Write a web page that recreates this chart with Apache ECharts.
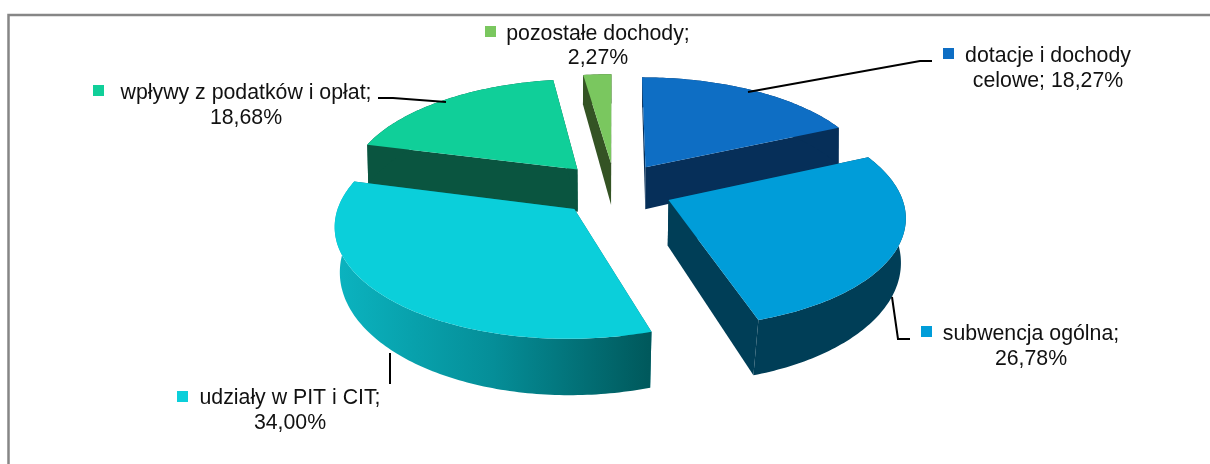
<!DOCTYPE html>
<html>
<head>
<meta charset="utf-8">
<title>Struktura dochodów</title>
<script src="https://cdn.jsdelivr.net/npm/echarts@6/dist/echarts.min.js"></script>
<style>
  html, body { margin: 0; padding: 0; background: #fff; }
  #chart { width: 1210px; height: 464px; }
</style>
</head>
<body>
<div id="chart"></div>
<script>
// slices clockwise from 12 o'clock
const categories = ["dotacje i dochody\ncelowe", "subwencja ogólna", "udziały w PIT i CIT", "wpływy z podatków i opłat", "pozostałe dochody"];
const values = [18.27, 26.78, 34.0, 18.68, 2.27];
const topColors = ["#0E6EC4", "#009DD9", "#0BCFDA", "#10CF99", "#7AC75F"];
const sideColors = ["#062F59", "#003E57", "#02707A", "#0A5540", "#345324"];
// back slices first so the near ones cover them
const drawOrder = [3, 4, 0, 1, 2];

// label placement: text centre, key square, leader line
const labelBoxes = [
  { x: 1048, y: 68.5, key: [943, 48], leader: [[748, 92], [920, 61], [932, 61]] },
  { x: 1031, y: 346.5, key: [921, 326], leader: [[892, 297], [898, 339], [910, 339]] },
  { x: 290, y: 410.5, key: [177, 391], leader: [[390, 353], [390, 384]] },
  { x: 246, y: 105.5, key: [93, 85], leader: [[378, 98], [393, 98], [446, 102]] },
  { x: 598, y: 46, key: [485, 26], leader: null },
];

// fake 3D: plane -> screen with a bit of perspective, z = 1 is the bottom of the pie
const view = { cx: 615, cy: 189, a: 231, b: 107, p: 0.132, lift0: 0.012, lift1: 0.018, d0: 45, d1: 8, explode: 0.25 };

function project(X, Y, z) {
  const w = 1 - view.p * Y + z * (view.lift0 + view.lift1 * Y);
  return [view.cx + (view.a * X) / w, view.cy + (view.b * Y + z * (view.d0 + view.d1 * Y)) / w];
}

function planePoint(angle, r, ox, oy) {
  return [ox + r * Math.sin(angle), oy - r * Math.cos(angle)];
}

function renderSlice(params, api) {
  const idx = api.value(0);
  const total = values.reduce((s, v) => s + v, 0);
  let before = 0;
  for (let i = 0; i < idx; i++) before += values[i];
  const a0 = (before / total) * Math.PI * 2;
  const a1 = ((before + api.value(1)) / total) * Math.PI * 2;
  const mid = (a0 + a1) / 2;
  const ox = view.explode * Math.sin(mid);
  const oy = -view.explode * Math.cos(mid);

  const steps = Math.max(4, Math.round(((a1 - a0) * 180) / Math.PI));
  const arc = [];
  for (let i = 0; i <= steps; i++) {
    arc.push(planePoint(a0 + ((a1 - a0) * i) / steps, 1, ox, oy));
  }
  const toScreen = (pts, z) => pts.map((p) => project(p[0], p[1], z));
  const poly = (points, fill) => ({ type: "polygon", shape: { points: points }, style: { fill: fill } });

  const tipTop = project(ox, oy, 0);
  const tipBottom = project(ox, oy, 1);
  const arcTop = toScreen(arc, 0);
  const arcBottom = toScreen(arc, 1);
  const side = sideColors[idx];

  // the big slice has a shaded rim
  let rim = side;
  if (idx === 2) {
    rim = new echarts.graphic.LinearGradient(0, 0, 1, 0, [
      { offset: 0, color: "#0BB4C0" },
      { offset: 0.5, color: "#058E98" },
      { offset: 1, color: "#00585B" },
    ]);
  }

  return {
    type: "group",
    children: [
      poly([tipTop, arcTop[0], arcBottom[0], tipBottom], side),
      poly([tipTop, arcTop[steps], arcBottom[steps], tipBottom], side),
      poly(arcTop.concat(arcBottom.slice().reverse()), rim),
      poly([tipTop].concat(arcTop), topColors[idx]),
    ],
  };
}

function formatPct(v) {
  return v.toFixed(2).replace(".", ",") + "%";
}

function labelText(i) {
  const name = categories[i];
  return name + ";" + (name.indexOf("\n") >= 0 ? " " : "\n") + formatPct(values[i]);
}

const graphics = [
  {
    type: "polyline",
    shape: { points: [[1215, 15], [8.5, 15], [8.5, 470]] },
    style: { stroke: "#868686", lineWidth: 2.5, fill: null },
    z: 0,
  },
];
labelBoxes.forEach((box, i) => {
  graphics.push({
    type: "rect",
    shape: { x: box.key[0], y: box.key[1], width: 11, height: 11 },
    style: { fill: topColors[i] },
    z: 5,
  });
  if (box.leader) {
    graphics.push({
      type: "polyline",
      shape: { points: box.leader },
      style: { stroke: "#000", lineWidth: 2, fill: null },
      z: 5,
    });
  }
  graphics.push({
    type: "text",
    x: box.x,
    y: box.y,
    style: {
      text: labelText(i),
      fill: "#111",
      font: '21.3px "Liberation Sans", Arial, sans-serif',
      lineHeight: 24.5,
      align: "center",
      verticalAlign: "middle",
    },
    z: 5,
  });
});

const chart = echarts.init(document.getElementById("chart"), null, { renderer: "canvas" });
chart.setOption({
  animation: false,
  backgroundColor: "#fff",
  graphic: { elements: graphics },
  series: [
    {
      type: "custom",
      coordinateSystem: "none",
      renderItem: renderSlice,
      silent: true,
      data: drawOrder.map((i) => [i, values[i]]),
      z: 2,
    },
  ],
});
</script>
</body>
</html>
